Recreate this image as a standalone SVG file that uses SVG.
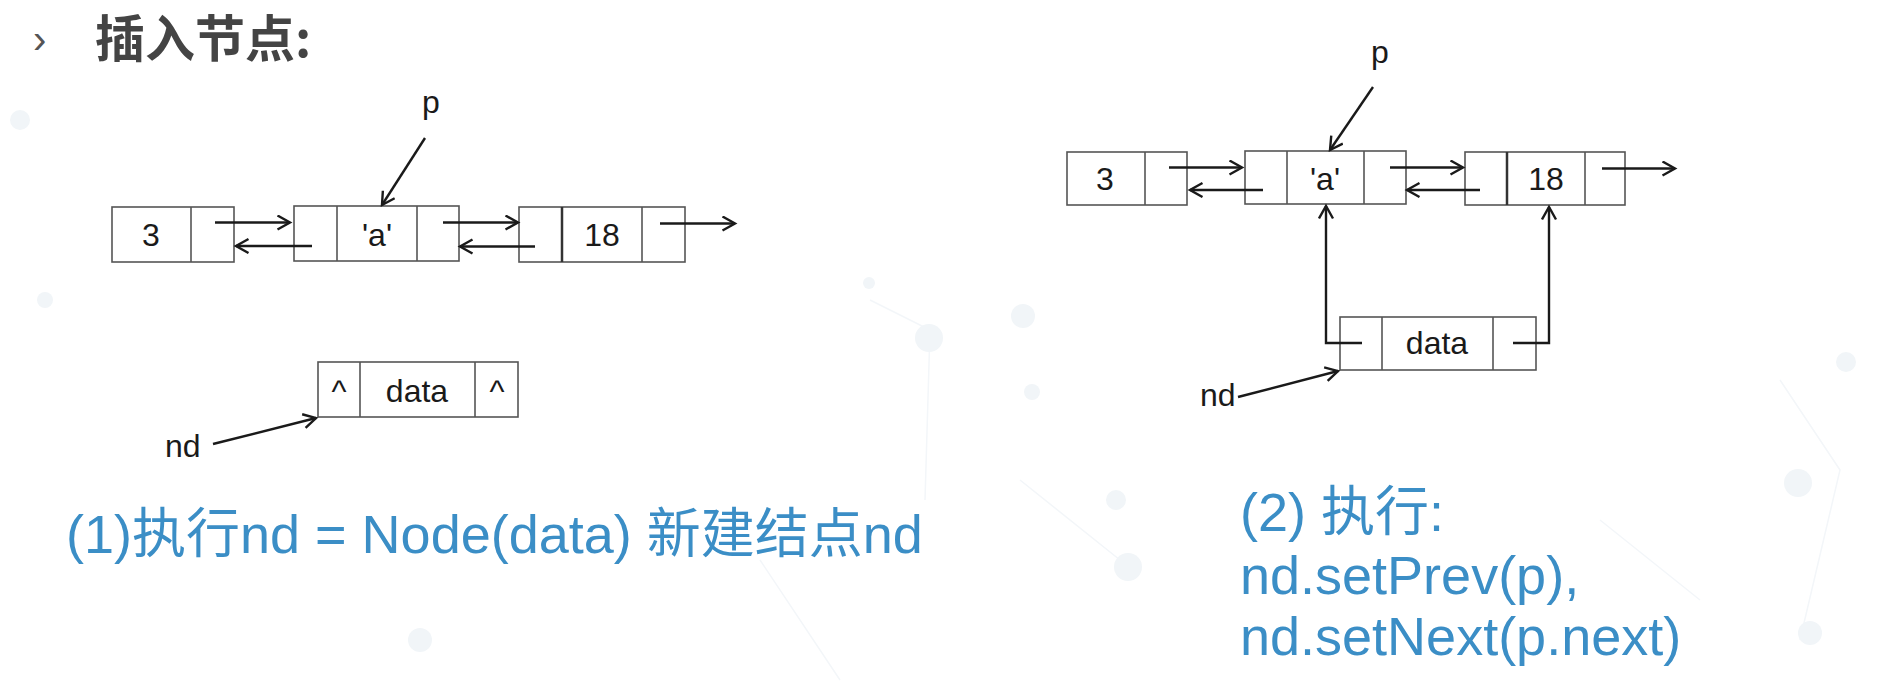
<svg xmlns="http://www.w3.org/2000/svg" width="1892" height="682" viewBox="0 0 1892 682">
  <style>
    .box { fill: #ffffff; stroke: #555555; stroke-width: 1.6; }
    .div { stroke: #555555; stroke-width: 1.6; }
    .thick { stroke: #333333; stroke-width: 2.5; }
    .lbl { font-family: "Liberation Sans", Arial, sans-serif; font-size: 32px; fill: #1a1a1a; }
    .mid { text-anchor: middle; }
    .arr { fill: none; stroke: #1a1a1a; stroke-width: 2.4; marker-end: url(#ah); }
    .cap { font-family: "Liberation Sans", "Noto Sans CJK SC", sans-serif; font-size: 54px; fill: #3b8ec6; }
    .title { font-family: "Noto Sans CJK SC", "Liberation Sans", sans-serif; font-size: 50px; font-weight: bold; fill: #444444; }
    .bg { fill: #f1f5f8; }
    .bgl { stroke: #f3f6f9; stroke-width: 1.5; fill: none; }
  </style>
  <defs>
    <marker id="ah" markerUnits="userSpaceOnUse" markerWidth="18" markerHeight="18" refX="14" refY="8" orient="auto">
      <path d="M1.5,1 L14,8 L1.5,15" fill="none" stroke="#1a1a1a" stroke-width="2.4"/>
    </marker>
  </defs>
  <rect x="0" y="0" width="1892" height="682" fill="#ffffff"/>

  <g id="background">
    <path class="bgl" d="M870,300 L930,330 L925,500 M1020,480 L1120,560 M1780,380 L1840,470 L1800,640 M760,560 L840,680 M1600,520 L1700,600"/>
    <circle class="bg" cx="929" cy="338" r="14"/>
    <circle class="bg" cx="1023" cy="316" r="12"/>
    <circle class="bg" cx="1032" cy="392" r="8"/>
    <circle class="bg" cx="869" cy="283" r="6"/>
    <circle class="bg" cx="1128" cy="567" r="14"/>
    <circle class="bg" cx="1116" cy="500" r="10"/>
    <circle class="bg" cx="1798" cy="483" r="14"/>
    <circle class="bg" cx="1846" cy="362" r="10"/>
    <circle class="bg" cx="1810" cy="633" r="12"/>
    <circle class="bg" cx="20" cy="120" r="10"/>
    <circle class="bg" cx="45" cy="300" r="8"/>
    <circle class="bg" cx="420" cy="640" r="12"/>
  </g>

  <g id="title">
    <text x="33" y="53" font-family="Liberation Sans, sans-serif" font-size="40" fill="#555555">›</text>
    <text class="title" x="95" y="57">插入节点:</text>
  </g>

  <!-- Left diagram -->
  <g id="L-node-3">
    <rect class="box" x="112" y="207" width="122" height="55"/>
    <line class="div" x1="191" y1="207" x2="191" y2="262"/>
    <text class="lbl mid" x="151" y="246">3</text>
  </g>
  <g id="L-node-a">
    <rect class="box" x="294" y="206" width="165" height="55"/>
    <line class="div" x1="337" y1="206" x2="337" y2="261"/>
    <line class="div" x1="417" y1="206" x2="417" y2="261"/>
    <text class="lbl mid" x="377" y="246">'a'</text>
  </g>
  <g id="L-node-18">
    <rect class="box" x="519" y="207" width="166" height="55"/>
    <line class="thick" x1="562" y1="207" x2="562" y2="262"/>
    <line class="div" x1="642" y1="207" x2="642" y2="262"/>
    <text class="lbl mid" x="602" y="246">18</text>
  </g>
  <g id="L-p">
    <text class="lbl mid" x="431" y="113">p</text>
  </g>
  <g id="L-node-nd">
    <rect class="box" x="318" y="362" width="200" height="55"/>
    <line class="div" x1="360" y1="362" x2="360" y2="417"/>
    <line class="div" x1="475" y1="362" x2="475" y2="417"/>
    <text class="lbl mid" x="339" y="402">^</text>
    <text class="lbl mid" x="417" y="402">data</text>
    <text class="lbl mid" x="497" y="402">^</text>
  </g>
  <g id="L-nd">
    <text class="lbl" x="165" y="457">nd</text>
  </g>

  <!-- Right diagram -->
  <g id="R-node-3">
    <rect class="box" x="1067" y="152" width="120" height="53"/>
    <line class="div" x1="1145" y1="152" x2="1145" y2="205"/>
    <text class="lbl mid" x="1105" y="190">3</text>
  </g>
  <g id="R-node-a">
    <rect class="box" x="1245" y="151" width="161" height="53"/>
    <line class="div" x1="1287" y1="151" x2="1287" y2="204"/>
    <line class="div" x1="1364" y1="151" x2="1364" y2="204"/>
    <text class="lbl mid" x="1325" y="190">'a'</text>
  </g>
  <g id="R-node-18">
    <rect class="box" x="1465" y="152" width="160" height="53"/>
    <line class="thick" x1="1507" y1="152" x2="1507" y2="205"/>
    <line class="div" x1="1585" y1="152" x2="1585" y2="205"/>
    <text class="lbl mid" x="1546" y="190">18</text>
  </g>
  <g id="R-p">
    <text class="lbl mid" x="1380" y="63">p</text>
  </g>
  <g id="R-node-data">
    <rect class="box" x="1340" y="317" width="196" height="53"/>
    <line class="div" x1="1382" y1="317" x2="1382" y2="370"/>
    <line class="div" x1="1493" y1="317" x2="1493" y2="370"/>
    <text class="lbl mid" x="1437" y="354">data</text>
  </g>
  <g id="R-nd">
    <text class="lbl" x="1200" y="406">nd</text>
  </g>

  <g id="connectors">
    <line class="arr" x1="215" y1="222.5" x2="290" y2="222.5"/>
    <line class="arr" x1="312" y1="246" x2="236" y2="246"/>
    <line class="arr" x1="443" y1="222.5" x2="518" y2="222.5"/>
    <line class="arr" x1="535" y1="246.5" x2="460" y2="246.5"/>
    <line class="arr" x1="660" y1="223.5" x2="735" y2="223.5"/>
    <line class="arr" x1="425" y1="138" x2="382" y2="205"/>
    <line class="arr" x1="213" y1="444" x2="316" y2="418"/>

    <line class="arr" x1="1169" y1="167.5" x2="1242" y2="167.5"/>
    <line class="arr" x1="1263" y1="190" x2="1190" y2="190"/>
    <line class="arr" x1="1390" y1="167.5" x2="1463" y2="167.5"/>
    <line class="arr" x1="1480" y1="190" x2="1407" y2="190"/>
    <line class="arr" x1="1602" y1="168.5" x2="1675" y2="168.5"/>
    <line class="arr" x1="1373" y1="87" x2="1330" y2="150"/>
    <polyline class="arr" points="1362,343 1326,343 1326,206"/>
    <polyline class="arr" points="1513,343 1549,343 1549,207"/>
    <line class="arr" x1="1238" y1="397" x2="1338" y2="371"/>
  </g>

  <g id="captions">
    <text class="cap" x="66" y="553">(1)执行nd = Node(data) 新建结点nd</text>
    <text class="cap" x="1240" y="531">(2) 执行:</text>
    <text class="cap" x="1240" y="594">nd.setPrev(p),</text>
    <text class="cap" x="1240" y="655">nd.setNext(p.next)</text>
  </g>
</svg>
